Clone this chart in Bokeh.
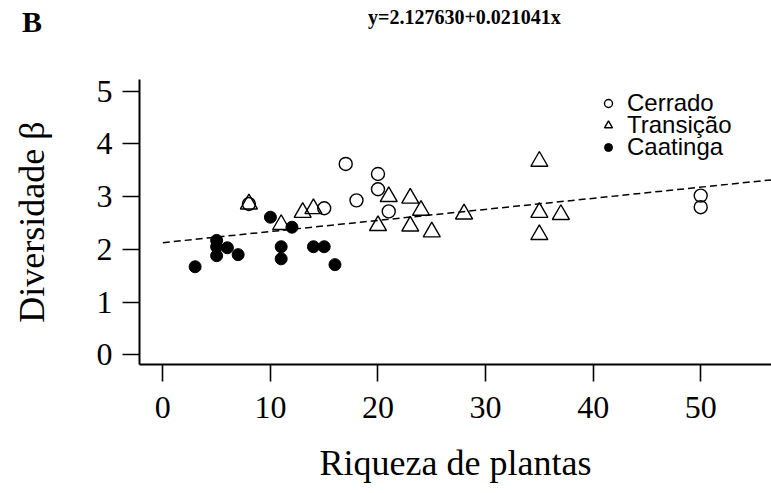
from bokeh.plotting import figure
from bokeh.models import Range1d, FixedTicker, Legend, LegendItem, Div
from bokeh.layouts import column
from bokeh.embed import file_html
from bokeh.resources import INLINE

# ---- data ----
cerrado_x = [17, 20, 20, 18, 21, 15, 8, 50, 50]
cerrado_y = [3.62, 3.43, 3.14, 2.93, 2.72, 2.78, 2.86, 3.02, 2.80]

transicao_x = [8, 11, 13, 14, 20, 21, 23, 23, 24, 25, 28, 35, 35, 35, 37]
transicao_y = [2.86, 2.47, 2.70, 2.77, 2.45, 3.00, 2.97, 2.44, 2.74, 2.33, 2.67, 3.67, 2.70, 2.28, 2.66]

caatinga_x = [3, 5, 5, 5, 6, 7, 10, 11, 11, 12, 14, 15, 16]
caatinga_y = [1.67, 2.17, 2.05, 1.88, 2.03, 1.90, 2.61, 2.05, 1.82, 2.42, 2.05, 2.05, 1.71]

intercept = 2.127630
slope = 0.021041
fit_x = [0, 57]
fit_y = [intercept + slope * v for v in fit_x]

x_ticks = [0, 10, 20, 30, 40, 50]
y_ticks = [0, 1, 2, 3, 4, 5]

panel_letter = "B"
equation = "y=2.127630+0.021041x"

SERIF = "Liberation Serif"
SANS = "Liberation Sans"

HEADER_H = 40

# ---- header strip holding the panel letter and the equation ----
header_html = (
    '<div style="position:relative;width:771px;height:%dpx;margin:0;padding:0;">'
    '<span style="position:absolute;left:22px;top:7px;font-family:\'%s\';'
    'font-weight:bold;font-size:30px;line-height:30px;color:black;'
    'white-space:nowrap;">%s</span>'
    '<span style="position:absolute;left:368px;top:7px;font-family:\'%s\';'
    'font-weight:bold;font-size:20px;line-height:20px;color:black;'
    'white-space:nowrap;">%s</span>'
    '</div>' % (HEADER_H, SERIF, panel_letter, SERIF, equation)
)
header = Div(text=header_html, width=771, height=HEADER_H, margin=0)

# ---- main scatter plot ----
p = figure(width=771, height=493 - HEADER_H, output_backend="svg",
           toolbar_location=None,
           x_range=Range1d(-2.17, 56.58), y_range=Range1d(-0.184, 5.222),
           min_border_left=139, min_border_right=0, min_border_top=79 - HEADER_H,
           min_border_bottom=129, margin=0)
p.outline_line_color = None
p.grid.visible = False
p.background_fill_color = "white"

# fitted line
p.line(fit_x, fit_y, line_color="black", line_width=1.5, line_dash="7 4")

r_cer = p.scatter(cerrado_x, cerrado_y, marker="circle", size=13,
                  line_color="black", line_width=1.4, fill_alpha=0)
r_tra = p.scatter(transicao_x, transicao_y, marker="triangle", size=17,
                  line_color="black", line_width=1.4, fill_alpha=0)
r_caa = p.scatter(caatinga_x, caatinga_y, marker="circle", size=12,
                  line_color="black", fill_color="black")

for ax in (p.xaxis[0], p.yaxis[0]):
    ax.axis_line_width = 2
    ax.major_tick_line_width = 1.6
    ax.major_tick_out = 17
    ax.major_tick_in = 0
    ax.minor_tick_line_color = None
    ax.major_label_text_font = SERIF
    ax.major_label_text_font_size = "32px"
    ax.major_label_text_color = "black"
    ax.axis_label_text_font = SERIF
    ax.axis_label_text_font_style = "normal"
    ax.axis_label_text_font_size = "36px"
    ax.axis_label_text_color = "black"

p.xaxis[0].ticker = FixedTicker(ticks=x_ticks)
p.yaxis[0].ticker = FixedTicker(ticks=y_ticks)
p.xaxis[0].axis_label = "Riqueza de plantas"
p.yaxis[0].axis_label = "Diversidade β"
p.xaxis[0].major_label_standoff = 15
p.xaxis[0].axis_label_standoff = 22
p.yaxis[0].major_label_standoff = 10
p.yaxis[0].axis_label_standoff = 42

# legend: one small legend per row so that the row spacing matches
labels = ["Cerrado", "Transição", "Caatinga"]
renderers = [r_cer, r_tra, r_caa]
for i, (lab, rend) in enumerate(zip(labels, renderers)):
    lg = Legend(items=[LegendItem(label=lab, renderers=[rend])],
                location=(459, 247 - 22 * i), padding=0, margin=0, spacing=0,
                glyph_width=20, glyph_height=28, label_height=28,
                label_standoff=9, label_text_font=SANS,
                label_text_font_size="24px", label_text_color="black",
                border_line_color=None, background_fill_alpha=0)
    p.add_layout(lg, "center")

layout = column(header, p, spacing=0)
open("out.html", "w").write(file_html(layout, INLINE))
